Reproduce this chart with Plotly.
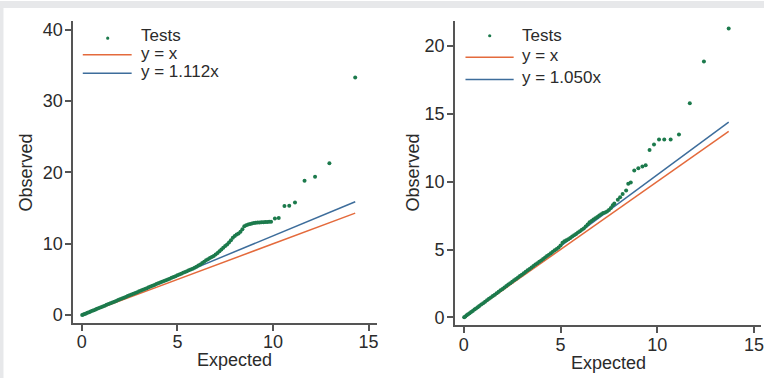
import plotly.graph_objects as go

# ---------------- data ----------------
left_expected = [0.02, 0.08, 0.15, 0.22, 0.30, 0.38, 0.46, 0.55, 0.63, 0.72, 0.80, 0.90,
                 1.0, 1.1, 1.2, 1.3, 1.4, 1.5, 1.6, 1.7, 1.8, 1.9, 2.0, 2.1, 2.2, 2.3, 2.4,
                 2.5, 2.6, 2.7, 2.8, 2.9, 3.0, 3.1, 3.2, 3.3, 3.4, 3.5, 3.6, 3.7, 3.8, 3.9,
                 4.0, 4.1, 4.2, 4.3, 4.4, 4.5, 4.6, 4.7, 4.8, 4.9, 5.0, 5.1, 5.2, 5.3, 5.4,
                 5.5, 5.6, 5.7, 5.8, 5.9, 6.0, 6.1, 6.2, 6.3, 6.4, 6.5, 6.6, 6.7, 6.8, 6.9,
                 7.0, 7.1, 7.2, 7.3, 7.4, 7.5, 7.6, 7.7, 7.8, 7.9, 8.0, 8.1, 8.2, 8.3, 8.4,
                 8.5, 8.6, 8.7, 8.8, 8.9, 9.0, 9.1, 9.2, 9.3, 9.4, 9.5, 9.6, 9.7, 9.8, 9.9,
                 10.1, 10.3, 10.6, 10.85, 11.15, 11.65, 12.2, 12.95, 14.3]
left_observed = [0.02, 0.09, 0.17, 0.24, 0.33, 0.42, 0.51, 0.61, 0.70, 0.80, 0.89, 1.00,
                 1.11, 1.22, 1.33, 1.45, 1.56, 1.67, 1.78, 1.89, 2.00, 2.11, 2.22, 2.34, 2.45,
                 2.56, 2.67, 2.78, 2.89, 3.00, 3.11, 3.22, 3.34, 3.45, 3.56, 3.67, 3.78, 3.90,
                 4.01, 4.12, 4.24, 4.35, 4.46, 4.57, 4.68, 4.79, 4.90, 5.01, 5.12, 5.24, 5.35,
                 5.47, 5.58, 5.69, 5.81, 5.93, 6.04, 6.16, 6.28, 6.40, 6.52, 6.65, 6.80, 6.95,
                 7.10, 7.30, 7.50, 7.70, 7.85, 8.00, 8.15, 8.30, 8.50, 8.72, 8.95, 9.20, 9.45,
                 9.68, 9.90, 10.20, 10.50, 10.85, 11.10, 11.30, 11.45, 11.70, 12.05, 12.45,
                 12.60, 12.70, 12.78, 12.85, 12.90, 12.95, 12.98, 13.00, 13.02, 13.03, 13.05,
                 13.06, 13.08, 13.10, 13.55, 13.60, 15.30, 15.35, 15.80, 18.85, 19.40, 21.30,
                 33.30]
left_line_x = [0, 14.3]
left_line_eq = [0, 14.3]
left_line_fit = [0, 15.9]
left_fit_label = "y = 1.112x"

right_expected = [0.02, 0.08, 0.15, 0.22, 0.30, 0.38, 0.46, 0.55, 0.63, 0.72, 0.80, 0.90,
                  1.0, 1.1, 1.2, 1.3, 1.4, 1.5, 1.6, 1.7, 1.8, 1.9, 2.0, 2.1, 2.2, 2.3, 2.4,
                  2.5, 2.6, 2.7, 2.8, 2.9, 3.0, 3.1, 3.2, 3.3, 3.4, 3.5, 3.6, 3.7, 3.8, 3.9,
                  4.0, 4.1, 4.2, 4.3, 4.4, 4.5, 4.6, 4.7, 4.8, 4.9, 5.0, 5.1, 5.2, 5.3, 5.4,
                  5.5, 5.6, 5.7, 5.8, 5.9, 6.0, 6.1, 6.2, 6.3, 6.4, 6.5, 6.6, 6.7, 6.8, 6.9,
                  7.0, 7.1, 7.2, 7.3, 7.4, 7.5, 7.6, 7.7, 7.78, 7.96, 8.08, 8.21, 8.39, 8.5,
                  8.63, 8.81, 9.02, 9.23, 9.4, 9.6, 9.83, 10.09, 10.36, 10.69, 11.12, 11.68,
                  12.41, 13.69]
right_observed = [0.02, 0.08, 0.16, 0.23, 0.32, 0.40, 0.48, 0.58, 0.66, 0.76, 0.84, 0.95,
                  1.05, 1.16, 1.26, 1.37, 1.47, 1.58, 1.68, 1.79, 1.89, 2.00, 2.10, 2.21, 2.31,
                  2.42, 2.52, 2.63, 2.73, 2.84, 2.94, 3.05, 3.15, 3.26, 3.36, 3.47, 3.57, 3.68,
                  3.78, 3.89, 3.99, 4.10, 4.20, 4.31, 4.41, 4.52, 4.62, 4.73, 4.83, 4.94, 5.04,
                  5.15, 5.30, 5.50, 5.60, 5.68, 5.76, 5.85, 5.95, 6.05, 6.15, 6.25, 6.35, 6.45,
                  6.55, 6.70, 6.85, 7.00, 7.10, 7.20, 7.30, 7.40, 7.50, 7.60, 7.68, 7.72, 7.80,
                  7.90, 8.05, 8.25, 8.38, 8.67, 8.84, 9.09, 9.35, 9.84, 9.94, 10.81, 10.98,
                  11.10, 11.20, 12.32, 12.73, 13.10, 13.10, 13.10, 13.46, 15.77, 18.83, 21.26]
right_line_x = [0, 13.69]
right_line_eq = [0, 13.69]
right_line_fit = [0, 14.37]
right_fit_label = "y = 1.050x"

legend_labels = ["Tests", "y = x"]
x_ticks = [0, 5, 10, 15]
left_y_ticks = [0, 10, 20, 30, 40]
right_y_ticks = [0, 5, 10, 15, 20]

# ---------------- styling ----------------
W, H = 766, 380
GREEN = "#1c7a4c"
ORANGE = "#e46a3c"
BLUE = "#3d6d9b"
AXIS = "#555555"
TEXT = "#2b2b2b"
FONT = "Liberation Sans, Arial, sans-serif"


def px_x(p):
    return p / W


def px_y(p):
    return 1 - p / H


fig = go.Figure()

# left panel
fig.add_trace(go.Scatter(x=left_line_x, y=left_line_eq, mode="lines", name=legend_labels[1],
                         line=dict(color=ORANGE, width=1.5), xaxis="x", yaxis="y"))
fig.add_trace(go.Scatter(x=left_line_x, y=left_line_fit, mode="lines", name=left_fit_label,
                         line=dict(color=BLUE, width=1.5), xaxis="x", yaxis="y"))
fig.add_trace(go.Scatter(x=left_expected, y=left_observed, mode="markers", name=legend_labels[0],
                         marker=dict(color=GREEN, size=4), xaxis="x", yaxis="y"))

# right panel
fig.add_trace(go.Scatter(x=right_line_x, y=right_line_eq, mode="lines", name=legend_labels[1],
                         line=dict(color=ORANGE, width=1.5), xaxis="x2", yaxis="y2"))
fig.add_trace(go.Scatter(x=right_line_x, y=right_line_fit, mode="lines", name=right_fit_label,
                         line=dict(color=BLUE, width=1.5), xaxis="x2", yaxis="y2"))
fig.add_trace(go.Scatter(x=right_expected, y=right_observed, mode="markers", name=legend_labels[0],
                         marker=dict(color=GREEN, size=4), xaxis="x2", yaxis="y2"))

axis_common = dict(showline=True, linecolor=AXIS, linewidth=1.5, ticks="outside",
                   ticklen=6, tickwidth=1.5, tickcolor=AXIS, showgrid=False,
                   zeroline=False, tickfont=dict(family=FONT, size=18, color=TEXT),
                   fixedrange=True)
x_axis_common = dict(axis_common, ticklabelstandoff=-4)
y_axis_common = dict(axis_common, ticklabelstandoff=-1)

shapes = [
    dict(type="rect", xref="paper", yref="paper", x0=0, x1=1, y0=px_y(7), y1=1,
         fillcolor="#e7e8ea", line=dict(width=0), layer="below"),
    dict(type="rect", xref="paper", yref="paper", x0=0, x1=px_x(3.5), y0=0, y1=1,
         fillcolor="#e7e8ea", line=dict(width=0), layer="below"),
]
annotations = []


def add_legend(x_line0, x_line1, x_text, marker_xy, rows, labels):
    """Hand-drawn legend: marker sample, two line samples and texts."""
    mx, my = marker_xy
    shapes.append(dict(type="circle", xref="paper", yref="paper",
                       x0=px_x(mx - 1.6), x1=px_x(mx + 1.6),
                       y0=px_y(my + 1.6), y1=px_y(my - 1.6),
                       fillcolor=GREEN, line=dict(width=0)))
    for (ly, col) in [(rows[1][1], ORANGE), (rows[2][1], BLUE)]:
        shapes.append(dict(type="line", xref="paper", yref="paper",
                           x0=px_x(x_line0), x1=px_x(x_line1), y0=px_y(ly), y1=px_y(ly),
                           line=dict(color=col, width=1.5)))
    for (ty, _), lab in zip(rows, labels):
        annotations.append(dict(text=lab, xref="paper", yref="paper", x=px_x(x_text),
                                y=px_y(ty), xanchor="left", yanchor="middle",
                                showarrow=False,
                                font=dict(family=FONT, size=17, color=TEXT)))


add_legend(83, 132, 139, (108, 37.5), [(35, None), (52.5, 54.3), (71.5, 72.7)],
           [legend_labels[0], legend_labels[1], left_fit_label])
add_legend(466.7, 515, 521, (491, 35), [(35, None), (55, 56.7), (77, 79)],
           [legend_labels[0], legend_labels[1], right_fit_label])

for (tx, ty, txt, ang) in [(26, 173, "Observed", -90), (235, 362, "Expected", 0),
                           (414, 173, "Observed", -90), (610, 365, "Expected", 0)]:
    annotations.append(dict(text=txt, xref="paper", yref="paper", x=px_x(tx), y=px_y(ty),
                            textangle=ang, showarrow=False, xanchor="center",
                            yanchor="middle", font=dict(family=FONT, size=18, color=TEXT)))

fig.update_layout(
    width=W, height=H,
    margin=dict(l=0, r=0, t=0, b=0),
    paper_bgcolor="white", plot_bgcolor="white",
    showlegend=False,
    xaxis=dict(domain=[px_x(73.3), px_x(377.7)], range=[-0.454, 15.425],
               tickvals=x_ticks, anchor="y", **x_axis_common),
    yaxis=dict(domain=[px_y(324.5), px_y(20)], range=[-1.09, 41.25],
               tickvals=left_y_ticks, anchor="x", **y_axis_common),
    xaxis2=dict(domain=[px_x(456), px_x(762.7)], range=[-0.464, 15.345],
                tickvals=x_ticks, anchor="y2", **x_axis_common),
    yaxis2=dict(domain=[px_y(327), px_y(20)], range=[-0.584, 21.825],
                tickvals=right_y_ticks, anchor="x2", **y_axis_common),
    shapes=shapes,
    annotations=annotations,
)

fig.write_html("out.html",
               config={"displayModeBar": False},
               post_script="document.body.style.margin='0px';"
                           "document.body.style.overflow='hidden';")
